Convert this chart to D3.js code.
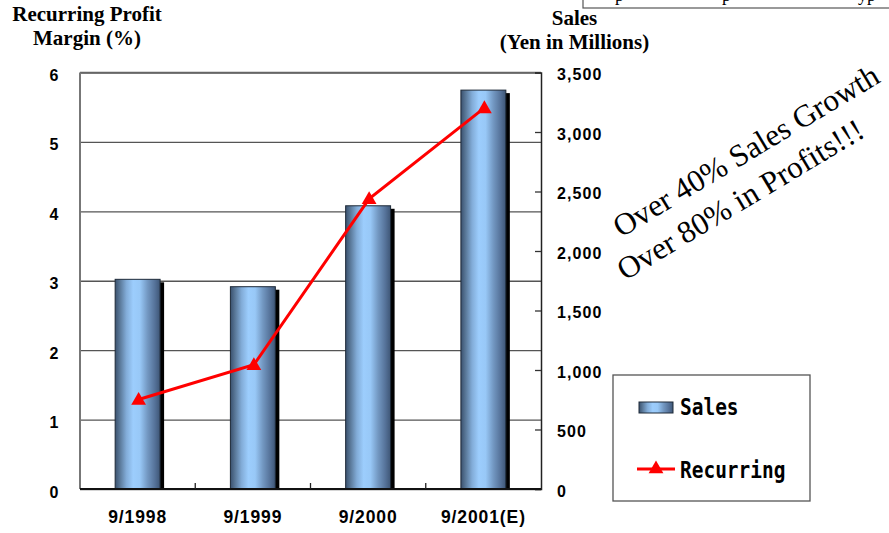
<!DOCTYPE html>
<html><head><meta charset="utf-8">
<script src="https://cdn.jsdelivr.net/npm/d3@7"></script>
<style>
html,body{margin:0;padding:0;background:#fff;}
svg{display:block;}
</style></head>
<body>
<svg id="chart" width="889" height="533"></svg>
<script>
// ---- data ----
const categories = ["9/1998", "9/1999", "9/2000", "9/2001(E)"];
const sales = [1762, 1700, 2380, 3352];          // Yen in millions
const recurring = [1.29, 1.79, 4.18, 5.49];      // recurring profit margin (%)
const leftTicks = [0, 1, 2, 3, 4, 5, 6];
const rightTicks = [0, 500, 1000, 1500, 2000, 2500, 3000, 3500];
const leftTitle = ["Recurring Profit", "Margin (%)"];
const rightTitle = ["Sales", "(Yen in Millions)"];
const annotation = ["Over 40% Sales Growth", "Over 80% in Profits!!!"];
const legendLabels = ["Sales", "Recurring"];

const svg = d3.select("#chart");
const m = {left: 80, right: 541, top: 72.5, bottom: 489};

const x = d3.scaleBand().domain(categories).range([m.left, m.right]).padding(0);
const yL = d3.scaleLinear().domain([0, 6]).range([m.bottom, m.top]);
const yR = d3.scaleLinear().domain([0, 3500]).range([m.bottom, m.top]);

// gradient
const defs = svg.append("defs");
const grad = defs.append("linearGradient").attr("id", "barGrad").attr("x1", 0).attr("x2", 1).attr("y1", 0).attr("y2", 0);
[[0, "#3a516e"], [0.1, "#587696"], [0.25, "#82acd8"], [0.4, "#9ccdfd"], [0.55, "#98c8f7"],
 [0.72, "#7398c2"], [0.88, "#56739a"], [1, "#3e5676"]].forEach(([o, c]) =>
  grad.append("stop").attr("offset", o).attr("stop-color", c));

// gridlines (left axis)
svg.append("g").attr("transform", `translate(${m.left},0)`)
  .call(d3.axisLeft(yL).tickValues(leftTicks).tickSize(-(m.right - m.left)).tickFormat(""))
  .call(g => g.select(".domain").remove())
  .call(g => g.selectAll("line").attr("stroke", "#555").attr("stroke-width", 1.3));

// plot border top
svg.append("line").attr("x1", m.left).attr("x2", m.right).attr("y1", m.top).attr("y2", m.top)
  .attr("stroke", "#666").attr("stroke-width", 1.5);

// bars
const bw = x.bandwidth() * 0.39;
const bx = c => x(c) + (x.bandwidth() - bw) / 2;
svg.append("g").selectAll("rect").data(categories).join("rect")
  .attr("x", c => bx(c) + 4).attr("y", (c, i) => yR(sales[i]) + 3)
  .attr("width", bw).attr("height", (c, i) => m.bottom - yR(sales[i]) - 3)
  .attr("fill", "#000");
svg.append("g").selectAll("rect").data(categories).join("rect")
  .attr("x", c => bx(c)).attr("y", (c, i) => yR(sales[i]))
  .attr("width", bw).attr("height", (c, i) => m.bottom - yR(sales[i]))
  .attr("fill", "url(#barGrad)").attr("stroke", "#1e2a38").attr("stroke-width", 1);

// left axis line
svg.append("line").attr("x1", m.left).attr("x2", m.left).attr("y1", m.top).attr("y2", m.bottom)
  .attr("stroke", "#777").attr("stroke-width", 2);

// left axis labels
svg.append("g").selectAll("text").data(leftTicks).join("text")
  .attr("x", 54).attr("y", d => yL(d) + 8.5).attr("text-anchor", "middle")
  .attr("font-family", "Liberation Sans, Arial, sans-serif").attr("font-weight", "bold")
  .attr("font-size", 16).text(d => d);

// right axis
svg.append("g").attr("transform", `translate(${m.right},0)`)
  .call(d3.axisRight(yR).tickValues(rightTicks).tickSize(-6).tickPadding(16).tickFormat(d3.format(",")))
  .call(g => g.select(".domain").attr("stroke", "#222").attr("stroke-width", 1.5))
  .call(g => g.selectAll("line").attr("stroke", "#333").attr("stroke-width", 1.3))
  .call(g => g.selectAll("text").attr("font-family", "Liberation Sans, Arial, sans-serif")
    .attr("font-weight", "bold").attr("font-size", 16).attr("letter-spacing", 1.1)
    .attr("fill", "#000").attr("dy", "0.45em"));

// bottom axis
svg.append("g").attr("transform", `translate(0,${m.bottom})`)
  .call(d3.axisBottom(x).tickSize(0).tickPadding(22))
  .call(g => g.select(".domain").remove())
  .call(g => g.selectAll("text").attr("font-family", "Liberation Sans, Arial, sans-serif")
    .attr("font-weight", "bold").attr("font-size", 17.5).attr("letter-spacing", 0.9).attr("fill", "#000"));
svg.append("line").attr("x1", m.left).attr("x2", m.right).attr("y1", m.bottom).attr("y2", m.bottom)
  .attr("stroke", "#111").attr("stroke-width", 2);
// category boundary ticks (inward)
svg.append("g").selectAll("line").data(categories.slice(1)).join("line")
  .attr("x1", c => x(c)).attr("x2", c => x(c)).attr("y1", m.bottom).attr("y2", m.bottom - 6)
  .attr("stroke", "#222").attr("stroke-width", 1.3);

// recurring line
const cx = c => x(c) + x.bandwidth() / 2 + 1;
svg.append("path").datum(categories)
  .attr("d", d3.line().x(c => cx(c)).y((c, i) => yL(recurring[i])))
  .attr("fill", "none").attr("stroke", "#ff0000").attr("stroke-width", 3);
const tri = d3.symbol(d3.symbolTriangle, 95);
svg.append("g").selectAll("path").data(categories).join("path")
  .attr("transform", (c, i) => `translate(${cx(c)},${yL(recurring[i]) + 1})`)
  .attr("d", tri).attr("fill", "#ff0000");

// titles
const serif = "Liberation Serif, Times New Roman, serif";
svg.append("g").selectAll("text").data(leftTitle).join("text")
  .attr("x", 87).attr("y", (d, i) => 21 + i * 24).attr("text-anchor", "middle")
  .attr("font-family", serif).attr("font-weight", "bold").attr("font-size", 21).text(d => d);
svg.append("g").selectAll("text").data(rightTitle).join("text")
  .attr("x", 574.5).attr("y", (d, i) => 25 + i * 24).attr("text-anchor", "middle")
  .attr("font-family", serif).attr("font-weight", "bold").attr("font-size", 21).text(d => d);

// top-right cut-off box
svg.append("rect").attr("x", 583).attr("y", -10).attr("width", 320).attr("height", 18)
  .attr("fill", "#fff").attr("stroke", "#555").attr("stroke-width", 1.2);
svg.append("g").selectAll("text").data([[615, "p"], [722, "p"], [858, "yp"]]).join("text")
  .attr("x", d => d[0]).attr("y", 0.5).attr("font-family", serif).attr("font-size", 18).text(d => d[1]);

// rotated annotation
const annPos = [[621, 238], [625, 281]];
svg.append("g").selectAll("text").data(annotation).join("text")
  .attr("transform", (d, i) => `translate(${annPos[i][0]},${annPos[i][1]}) rotate(-31)`)
  .attr("font-family", serif).attr("font-size", 31.2).text(d => d);

// legend
const lg = svg.append("g");
lg.append("rect").attr("x", 613).attr("y", 375).attr("width", 197).attr("height", 126)
  .attr("fill", "#fff").attr("stroke", "#555").attr("stroke-width", 1.3);
lg.append("rect").attr("x", 639).attr("y", 402).attr("width", 34).attr("height", 11)
  .attr("fill", "url(#barGrad)").attr("stroke", "#1e2a38").attr("stroke-width", 1);
lg.append("line").attr("x1", 637).attr("x2", 675).attr("y1", 469).attr("y2", 469)
  .attr("stroke", "#ff0000").attr("stroke-width", 3);
lg.append("path").attr("transform", "translate(656,469)").attr("d", tri).attr("fill", "#ff0000");
lg.selectAll("text.lab").data(legendLabels).join("text").attr("class", "lab")
  .attr("transform", (d, i) => `translate(680,${415 + i * 63}) scale(0.95,1.1)`)
  .attr("font-family", "DejaVu Sans Mono, monospace").attr("font-weight", "bold")
  .attr("font-size", 20.5).text(d => d);
</script>
</body></html>
